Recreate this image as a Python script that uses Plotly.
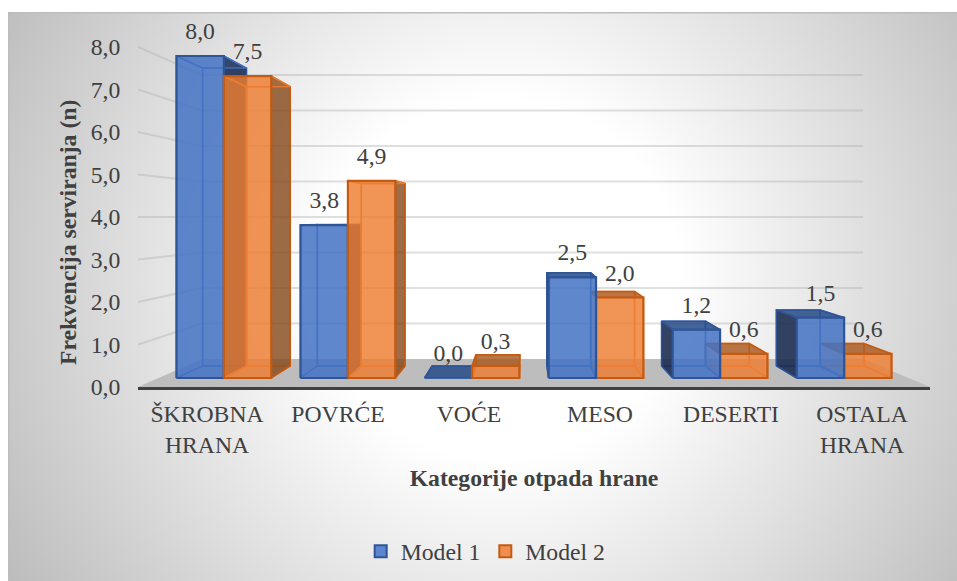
import base64
import plotly.graph_objects as go

# ---------- data ----------
categories = ["ŠKROBNA<br>HRANA", "POVRĆE", "VOĆE", "MESO", "DESERTI", "OSTALA<br>HRANA"]
model_1 = [8.0, 3.8, 0.0, 2.5, 1.2, 1.5]
model_2 = [7.5, 4.9, 0.3, 2.0, 0.6, 0.6]
y_ticks = [0, 1, 2, 3, 4, 5, 6, 7, 8]

W, H = 957, 581
TEXT = "#404040"
FONT = "Liberation Serif"
FS = 23.7

# ---------- axis placement (px) ----------
L, R, T, B = 138, 930, 12, 387
CAT0_PX, CAT_STEP_PX = 207, 131
V_PX = 42.5
x_range = [(L - CAT0_PX) / CAT_STEP_PX, (R - CAT0_PX) / CAT_STEP_PX]
y_range = [0, (B - T) / V_PX]

# ---------- perspective: vanishing point in data units, depth scales ----------
VP_X, VP_V = (525 - CAT0_PX) / CAT_STEP_PX, 4.0
S_WALL, S_FRONT, S_BACK = 0.835, 0.947, 0.876
BAR_W = 0.382


def proj(x, v, s):
    return VP_X + s * (x - VP_X), VP_V + s * (v - VP_V)


def poly(points, s_list):
    xs, ys = [], []
    for (x, v), s in zip(points, s_list):
        px, py = proj(x, v, s)
        xs.append(px)
        ys.append(py)
    return xs + xs[:1], ys + ys[:1]


fig = go.Figure()


def face(xs, ys, fill, line, width=1.5):
    fig.add_trace(go.Scatter(x=xs, y=ys, mode="lines", fill="toself", fillcolor=fill,
                             line=dict(color=line, width=width), hoverinfo="skip",
                             showlegend=False))


# floor
wall_left, wall_right = x_range
face(*poly([(wall_left, 0), (wall_right, 0), (wall_right, 0), (wall_left, 0)],
           [1, 1, S_WALL, S_WALL]), "#bdbdbd", "rgba(0,0,0,0)", 0)

# gridlines on the back wall and the left wall
for v in y_ticks[1:]:
    x0, y0 = proj(wall_left, v, S_WALL)
    x1, y1 = proj(wall_right, v, S_WALL)
    fig.add_trace(go.Scatter(x=[wall_left, x0, x1], y=[v, y0, y1], mode="lines",
                             line=dict(color="rgba(175,175,175,0.4)", width=2),
                             hoverinfo="skip", showlegend=False))

palette = {
    "Model 1": dict(front="rgba(68,114,196,0.84)", edge="#2f5597", inner="rgba(68,114,196,0.9)",
                    hidden="rgba(68,114,196,0.10)", top="rgba(40,75,135,0.85)",
                    side="rgba(22,38,75,0.86)", behind_side="rgba(22,38,75,0.86)"),
    "Model 2": dict(front="rgba(237,125,49,0.8)", edge="#c55a11", inner="rgba(237,125,49,0.9)",
                    hidden="rgba(237,125,49,0.10)", top="rgba(165,85,25,0.78)",
                    side="rgba(130,70,25,0.78)", behind_side="rgba(237,125,49,0.2)"),
}


def draw_bar(x0, x1, v, p):
    sq = [S_FRONT, S_FRONT, S_BACK, S_BACK]
    # back and floor faces
    face(*poly([(x0, 0), (x1, 0), (x1, v), (x0, v)], [S_BACK] * 4), p["hidden"], p["inner"], 1.5)
    face(*poly([(x0, 0), (x1, 0), (x1, 0), (x0, 0)], sq), p["hidden"], p["inner"], 1.5)
    # left face, right face
    left_seen = x0 > VP_X
    right_seen = x1 < VP_X
    face(*poly([(x0, 0), (x0, v), (x0, v), (x0, 0)], sq), p["behind_side"] if left_seen else p["hidden"],
         p["edge"] if left_seen else p["inner"], 1.5)
    face(*poly([(x1, 0), (x1, v), (x1, v), (x1, 0)], sq), p["side"] if right_seen else p["hidden"],
         p["edge"] if right_seen else p["inner"], 1.5)
    # top face
    top_seen = v < VP_V
    face(*poly([(x0, v), (x1, v), (x1, v), (x0, v)], sq), p["top"] if top_seen else p["hidden"],
         p["edge"] if top_seen else p["inner"], 1.5)
    # front face
    if v > 0:
        face(*poly([(x0, 0), (x1, 0), (x1, v), (x0, v)], [S_FRONT] * 4), p["front"], p["edge"], 2.2)


for i in range(len(categories)):
    blue = (i - BAR_W, i, model_1[i], palette["Model 1"])
    orange = (i, i + BAR_W, model_2[i], palette["Model 2"])
    # the bar nearer the vanishing point's far side is painted last
    for bar in ((blue, orange) if i < VP_X else (orange, blue)):
        draw_bar(*bar)

# value labels
for vals, shift in ((model_1, -BAR_W / 2), (model_2, BAR_W / 2)):
    pts = [proj(i + shift, v, S_FRONT) for i, v in enumerate(vals)]
    fig.add_trace(go.Scatter(x=[p[0] for p in pts], y=[p[1] for p in pts], mode="markers+text",
                             marker=dict(size=16, color="rgba(0,0,0,0)"),
                             text=[f"{v:.1f}".replace(".", ",") for v in vals],
                             textposition="top center",
                             textfont=dict(family=FONT, size=FS, color=TEXT),
                             hoverinfo="skip", showlegend=False, cliponaxis=False))

# legend entries
for name, fill, edge in (("Model 1", "#5b85cf", "#2f5597"), ("Model 2", "#f08e50", "#c55a11")):
    fig.add_trace(go.Scatter(x=[None], y=[None], mode="markers", name=name,
                             marker=dict(symbol="square", size=12, color=fill,
                                         line=dict(color=edge, width=2))))

svg = f'''<svg xmlns="http://www.w3.org/2000/svg" width="{W}" height="{H}" viewBox="0 0 {W} {H}">
<defs><radialGradient id="g" gradientUnits="userSpaceOnUse" cx="500" cy="280" r="600">
<stop offset="0" stop-color="#ffffff"/><stop offset="0.3" stop-color="#ffffff"/>
<stop offset="1" stop-color="#b8b8b8"/></radialGradient></defs>
<rect width="{W}" height="{H}" fill="#ffffff"/>
<rect x="8" y="12" width="{W - 8}" height="{H - 12}" fill="url(#g)"/>
<path d="M8.75 {H} V12.75 H{W}" fill="none" stroke="#bdbdbd" stroke-width="1.5"/></svg>'''
src = "data:image/svg+xml;base64," + base64.b64encode(svg.encode()).decode()

pw, ph = R - L, B - T
fig.update_layout(
    width=W, height=H, autosize=False,
    margin=dict(l=L, r=W - R, t=T, b=H - B, autoexpand=False),
    paper_bgcolor="#ffffff", plot_bgcolor="rgba(0,0,0,0)",
    font=dict(family=FONT, size=FS, color=TEXT),
    images=[dict(source=src, xref="paper", yref="paper", x=-L / pw, y=1 + T / ph,
                 sizex=W / pw, sizey=H / ph, xanchor="left", yanchor="top",
                 sizing="stretch", layer="below")],
    legend=dict(orientation="h", x=0.439, xanchor="center", y=-0.438, yanchor="middle",
                font=dict(family=FONT, size=FS, color=TEXT), bgcolor="rgba(0,0,0,0)"),
    xaxis=dict(range=x_range, tickmode="array", tickvals=list(range(len(categories))),
               ticktext=categories, showgrid=False, zeroline=False, showline=True,
               linecolor="#404040", linewidth=3, ticks="outside", ticklen=4,
               tickcolor="rgba(0,0,0,0)", tickfont=dict(family=FONT, size=FS, color=TEXT),
               fixedrange=True,
               title=dict(text="<b>Kategorije otpada hrane</b>", standoff=13,
                          font=dict(family=FONT, size=FS, color=TEXT))),
    yaxis=dict(range=y_range, tickmode="array", tickvals=y_ticks,
               ticktext=[f"{v:.1f}".replace(".", ",") for v in y_ticks], showgrid=False,
               zeroline=False, showline=False, ticks="outside", ticklen=12,
               tickcolor="rgba(0,0,0,0)", tickfont=dict(family=FONT, size=FS, color=TEXT),
               fixedrange=True),
    annotations=[dict(text="<b>Frekvencija serviranja (n)</b>", textangle=-90, showarrow=False,
                      xref="paper", yref="paper", x=(68 - L) / pw, y=(B - 233) / ph,
                      xanchor="center", yanchor="middle",
                      font=dict(family=FONT, size=FS, color=TEXT))],
)

fig.write_html("out.html", config={"displayModeBar": False},
               post_script='document.body.style.margin="0";')
